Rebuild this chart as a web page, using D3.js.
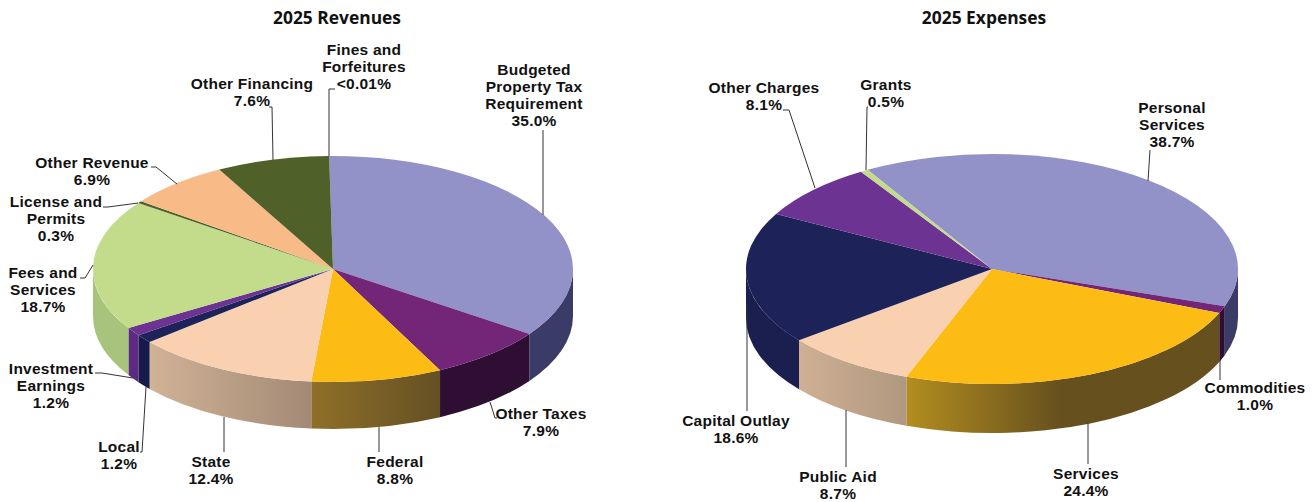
<!DOCTYPE html>
<html>
<head>
<meta charset="utf-8">
<script src="https://cdn.jsdelivr.net/npm/d3@7"></script>
<style>
  html, body { margin: 0; padding: 0; background: #fff; }
  svg { display: block; }
  .label { font: bold 15.5px "Liberation Sans", Arial, sans-serif; letter-spacing: 0.25px; fill: #111; text-anchor: middle; }
  .title { font: bold 17.4px "Open Sans", "DejaVu Sans", sans-serif; fill: #111; text-anchor: middle; }
  .leader { fill: none; stroke: #333; stroke-width: 1; }
</style>
</head>
<body>
<svg id="chart" width="1313" height="502"></svg>
<script>
// values, in percent, clockwise from the start of the first slice
const revenueValues = [35.0, 7.9, 8.8, 12.4, 1.2, 1.2, 18.7, 0.3, 6.9, 7.6, 0.005];
const revenueLabels = [
    ["Budgeted", "Property Tax", "Requirement", "35.0%"],
    ["Other Taxes", "7.9%"],
    ["Federal", "8.8%"],
    ["State", "12.4%"],
    ["Local", "1.2%"],
    ["Investment", "Earnings", "1.2%"],
    ["Fees and", "Services", "18.7%"],
    ["License and", "Permits", "0.3%"],
    ["Other Revenue", "6.9%"],
    ["Other Financing", "7.6%"],
    ["Fines and", "Forfeitures", "<0.01%"]
];
const expenseValues = [38.7, 1.0, 24.4, 8.7, 18.6, 8.1, 0.5];
const expenseLabels = [
    ["Personal", "Services", "38.7%"],
    ["Commodities", "1.0%"],
    ["Services", "24.4%"],
    ["Public Aid", "8.7%"],
    ["Capital Outlay", "18.6%"],
    ["Other Charges", "8.1%"],
    ["Grants", "0.5%"]
];

// slice colours: top face, then wall gradient left to right
const revenueTop = ["#9292c8", "#732578", "#fdbc13", "#f9d0b0", "#1d2359", "#6c3393", "#c2dc8c", "#4f6028", "#f8ba86", "#4f6028", "#4f6028"];
const revenueWall = [
    ["#3b3b68", "#3b3b68"], ["#2e0e33", "#2e0e33"], ["#8f7028", "#655024"], ["#d0b296", "#a38a76"],
    ["#161b4c", "#161b4c"], ["#5c2a80", "#5c2a80"], ["#a8c47c", "#a8c47c"], ["#4f6028", "#4f6028"],
    ["#c09060", "#c09060"], ["#3e4c20", "#3e4c20"], ["#3e4c20", "#3e4c20"]
];
const expenseTop = ["#9292c8", "#732578", "#fdbc13", "#f9d0b0", "#1d2359", "#6c3393", "#c2dc8c"];
const expenseWall = [
    ["#3b3b68", "#3b3b68"], ["#2e0e33", "#2e0e33"], ["#b38d20", "#65501e"], ["#cfb094", "#b09880"],
    ["#1a1f50", "#1a1f50"], ["#5c2a80", "#5c2a80"], ["#a8c47c", "#a8c47c"]
];

// label placement: centre x and first baseline of each label, same order as the labels
const revenueLabelPos = [[534, 75], [541, 419], [395, 467], [211, 467], [119, 452], [51, 374], [43, 278], [56, 207], [92, 168], [252, 89], [364, 55]];
const expenseLabelPos = [[1172, 113], [1255, 393], [1086, 479], [838, 482], [736, 426], [764, 93], [886, 90]];

// leader lines, same order again
const revenueLeaders = [
    [[543, 130], [543, 215]],
    [[497, 418], [495, 418], [490, 402]],
    [[379, 452], [379, 427]],
    [[224, 452], [224, 417]],
    [[140, 452], [142, 452], [146, 387]],
    [[95, 373], [102, 373], [133, 378]],
    [[80, 278], [85, 278], [93, 265]],
    [[103, 207], [108, 207], [138, 203]],
    [[151, 167], [156, 167], [177, 184]],
    [[269, 107], [272, 107], [273, 160]],
    [[335, 89], [329, 89], [329, 156]]
];
const expenseLeaders = [
    [[1150, 150], [1148, 181]],
    [[1220, 380], [1220, 360]],
    [[1088, 464], [1088, 423]],
    [[846, 467], [846, 410]],
    [[747, 411], [747, 305]],
    [[783, 110], [789, 110], [815, 188]],
    [[868, 107], [867, 107], [866, 170]]
];

const lineHeight = 17;
const svg = d3.select("#chart");
const defs = svg.append("defs");

const drawPie = (opts) => {
    const { id, cx, cy, rx, ry, depth, start, values, labels, top, wall, labelPos, leaders, title, titleX } = opts;

    const slices = d3.pie().sort(null)
        .startAngle(start)
        .endAngle(start + 2 * Math.PI)(values);

    const px = a => cx + rx * Math.sin(a);
    const py = a => cy - ry * Math.cos(a);

    const g = svg.append("g").attr("id", id);

    // walls: only the part of each slice on the front half of the ellipse
    const front = slices.map((d, i) => ({
        i: i,
        a0: Math.max(d.startAngle, Math.PI / 2),
        a1: Math.min(d.endAngle, 3 * Math.PI / 2)
    })).filter(d => d.a1 > d.a0);

    front.forEach(d => {
        const grad = defs.append("linearGradient")
            .attr("id", `${id}-wall-${d.i}`)
            .attr("x1", "0%").attr("x2", "100%");
        grad.append("stop").attr("offset", "0%").attr("stop-color", wall[d.i][0]);
        grad.append("stop").attr("offset", id === "expenses" && d.i === 2 ? "50%" : "100%").attr("stop-color", wall[d.i][1]);
    });

    g.selectAll(".wall")
        .data(front)
        .enter().append("path")
            .attr("class", "wall")
            .attr("fill", d => `url(#${id}-wall-${d.i})`)
            .attr("d", d => {
                const large = d.a1 - d.a0 > Math.PI ? 1 : 0;
                return `M${px(d.a0)},${py(d.a0)}`
                    + `A${rx},${ry} 0 ${large} 1 ${px(d.a1)},${py(d.a1)}`
                    + `L${px(d.a1)},${py(d.a1) + depth}`
                    + `A${rx},${ry} 0 ${large} 0 ${px(d.a0)},${py(d.a0) + depth}Z`;
            });

    // top face: a plain d3 arc squashed into an ellipse
    const arc = d3.arc().innerRadius(0).outerRadius(rx);
    g.append("g")
        .attr("transform", `translate(${cx},${cy}) scale(1,${ry / rx})`)
        .selectAll(".slice")
        .data(slices)
        .enter().append("path")
            .attr("class", "slice")
            .attr("fill", (d, i) => top[i])
            .attr("d", arc);

    // leaders
    const line = d3.line();
    g.selectAll(".leader")
        .data(leaders)
        .enter().append("path")
            .attr("class", "leader")
            .attr("d", d => line(d));

    // labels
    const text = g.selectAll(".label")
        .data(labels)
        .enter().append("text")
            .attr("class", "label")
            .attr("x", (d, i) => labelPos[i][0])
            .attr("y", (d, i) => labelPos[i][1]);
    text.each(function (d, i) {
        d3.select(this).selectAll("tspan")
            .data(d)
            .enter().append("tspan")
                .attr("x", labelPos[i][0])
                .attr("y", (t, k) => labelPos[i][1] + k * lineHeight)
                .text(t => t);
    });

    g.append("text")
        .attr("class", "title")
        .attr("x", titleX)
        .attr("y", 24)
        .text(title);
};

drawPie({
    id: "revenues", cx: 333, cy: 269, rx: 240, ry: 113, depth: 47,
    start: -0.016,
    values: revenueValues, labels: revenueLabels,
    top: revenueTop, wall: revenueWall,
    labelPos: revenueLabelPos, leaders: revenueLeaders,
    title: "2025 Revenues", titleX: 337
});

drawPie({
    id: "expenses", cx: 992, cy: 269, rx: 246, ry: 115, depth: 49,
    start: -30.4 * Math.PI / 180,
    values: expenseValues, labels: expenseLabels,
    top: expenseTop, wall: expenseWall,
    labelPos: expenseLabelPos, leaders: expenseLeaders,
    title: "2025 Expenses", titleX: 984
});
</script>
</body>
</html>
